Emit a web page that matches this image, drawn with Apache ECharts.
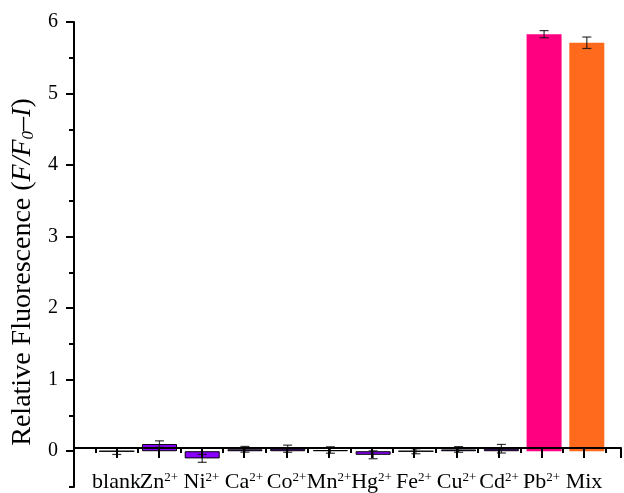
<!DOCTYPE html>
<html>
<head>
<meta charset="utf-8">
<script src="https://cdn.jsdelivr.net/npm/echarts@6/dist/echarts.min.js"></script>
<style>
html,body{margin:0;padding:0;background:#fff;}
#chart{width:624px;height:493px;}
</style>
</head>
<body>
<div id="chart"></div>
<script>
// ---- data ----
const categories = ['blank','Zn','Ni','Ca','Co','Mn','Hg','Fe','Cu','Cd','Pb','Mix'];
const charges    = ['','2+','2+','2+','2+','2+','2+','2+','2+','2+','2+',''];
const values     = [0, 0.10, -0.10, 0.027, 0.035, 0.017, -0.05, 0, 0.025, 0.035, 5.83, 5.71];
const errors     = [0.045, 0.045, 0.055, 0.04, 0.05, 0.045, 0.055, 0.035, 0.04, 0.06, 0.05, 0.08];
const yMajorTicks = [0, 1, 2, 3, 4, 5, 6];
const yMinorTicks = [-0.5, 0.5, 1.5, 2.5, 3.5, 4.5, 5.5];
const yTitle = 'Relative Fluorescence ({i|F/F}{sub|0}{i|\u2013I})';

// ---- styles ----
const barColors = ['#8a00ff','#8a00ff','#8a00ff','#8a00ff','#8a00ff','#8a00ff','#8a00ff','#8a00ff','#8a00ff','#8a00ff','#ff0080','#ff6a1c'];
const FONT = '"Liberation Serif", "Times New Roman", serif';
const AXIS_W = 2;

const Y_MIN = -0.5, Y_MAX = 6, X_MIN = 0, X_MAX = 12.87;
const GRID_TOP = 22, GRID_BOTTOM = 6, H = 493;
const plotH = H - GRID_TOP - GRID_BOTTOM;
// pixel distance from canvas bottom to the y=0 line (for the x-axis grid)
const zeroBottom = GRID_BOTTOM + plotH * (0 - Y_MIN) / (Y_MAX - Y_MIN);

const positions = categories.map((c, i) => i + 1);
const barData = values.map((v, i) => ({
  value: [positions[i], v],
  itemStyle: {
    color: barColors[i],
    borderColor: i < 10 ? '#000' : barColors[i],
    borderWidth: i < 10 ? 1 : 0
  }
}));
const errData = values.map((v, i) => [positions[i], v - errors[i], v + errors[i]]);

const chart = echarts.init(document.getElementById('chart'), null, {renderer: 'canvas'});
chart.setOption({
  animation: false,
  backgroundColor: '#fff',
  grid: [
    {left: 74, right: 0, top: GRID_TOP, bottom: GRID_BOTTOM, containLabel: false},
    {left: 74, right: 0, top: GRID_TOP, bottom: zeroBottom, containLabel: false}
  ],
  graphic: [{
    type: 'text',
    x: 23, y: 272,
    rotation: Math.PI / 2,
    style: {
      text: yTitle,
      fontSize: 28, fontFamily: FONT, fill: '#000',
      align: 'center', verticalAlign: 'middle',
      rich: {
        i: {fontSize: 28, fontFamily: FONT, fontStyle: 'italic', fill: '#000'},
        sub: {fontSize: 17, fontFamily: FONT, fontStyle: 'italic', fill: '#000', verticalAlign: 'bottom', lineHeight: 17}
      }
    }
  }],
  xAxis: [{
    // data axis for the bars (hidden)
    type: 'value', gridIndex: 0, min: X_MIN, max: X_MAX, show: false
  }, {
    // visible x axis on the zero line
    type: 'value', gridIndex: 1, min: X_MIN, max: X_MAX, interval: 1, position: 'bottom',
    z: 10,
    axisLine: {show: true, onZero: false, lineStyle: {color: '#000', width: AXIS_W}},
    axisTick: {show: true, length: 10, lineStyle: {color: '#000', width: AXIS_W}},
    minorTick: {show: true, splitNumber: 2, length: 5, lineStyle: {color: '#000', width: AXIS_W}},
    axisLabel: {
      show: true, margin: 23,
      showMinLabel: true, showMaxLabel: true,
      fontFamily: FONT, color: '#000',
      formatter: function (v) {
        const i = Math.round(v) - 1;
        if (Math.abs(v - Math.round(v)) > 1e-6 || i < 0 || i >= categories.length) return '';
        return charges[i] ? '{a|' + categories[i] + '}{s|' + charges[i] + '}' : '{a|' + categories[i] + '}';
      },
      rich: {
        a: {fontSize: 22, fontFamily: FONT, color: '#000', lineHeight: 22, padding: [9, 0, 0, 0], verticalAlign: 'bottom'},
        s: {fontSize: 13, fontFamily: FONT, color: '#000', lineHeight: 12, verticalAlign: 'top'}
      }
    },
    splitLine: {show: false},
    minorSplitLine: {show: false}
  }],
  yAxis: [{
    type: 'value', gridIndex: 0, min: Y_MIN, max: Y_MAX,
    axisLine: {show: true, onZero: false, lineStyle: {color: '#000', width: AXIS_W}},
    axisTick: {show: true, length: 8, customValues: yMajorTicks, lineStyle: {color: '#000', width: AXIS_W}},
    axisLabel: {show: true, customValues: yMajorTicks, margin: 16, fontSize: 20, fontFamily: FONT, color: '#000'},
    splitLine: {show: false}
  }, {
    type: 'value', gridIndex: 0, min: Y_MIN, max: Y_MAX, position: 'left',
    axisLine: {show: false, onZero: false},
    axisTick: {show: true, length: 5, customValues: yMinorTicks, lineStyle: {color: '#000', width: AXIS_W}},
    axisLabel: {show: false},
    splitLine: {show: false}
  }, {
    type: 'value', gridIndex: 1, min: 0, max: Y_MAX, show: false
  }],
  series: [{
    type: 'bar',
    xAxisIndex: 0, yAxisIndex: 0,
    barWidth: 35,
    data: barData,
    z: 2
  }, {
    type: 'custom',
    xAxisIndex: 0, yAxisIndex: 0,
    z: 5,
    encode: {x: 0, y: [1, 2]},
    data: errData,
    renderItem: function (params, api) {
      const x = api.value(0);
      const top = api.coord([x, api.value(2)]);
      const bot = api.coord([x, api.value(1)]);
      const w = 4.5;
      const st = {stroke: '#111', lineWidth: 1.2, opacity: 0.85};
      return {
        type: 'group',
        children: [
          {type: 'line', shape: {x1: top[0], y1: top[1], x2: bot[0], y2: bot[1]}, style: st},
          {type: 'line', shape: {x1: top[0] - w, y1: top[1], x2: top[0] + w, y2: top[1]}, style: st},
          {type: 'line', shape: {x1: bot[0] - w, y1: bot[1], x2: bot[0] + w, y2: bot[1]}, style: st}
        ]
      };
    }
  }]
});
</script>
</body>
</html>
